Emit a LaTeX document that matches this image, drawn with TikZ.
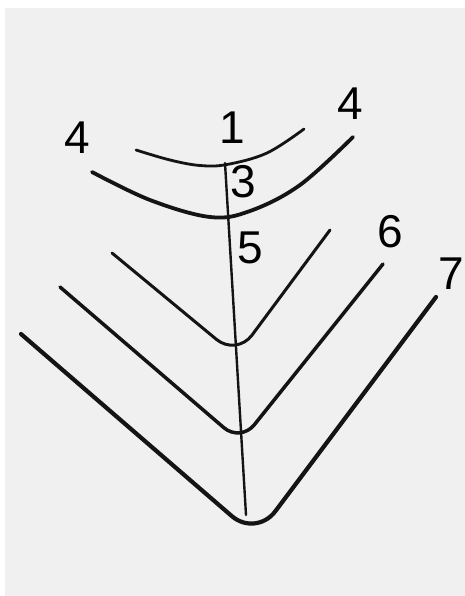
\documentclass[tikz,border=0pt]{standalone}
\usepackage{fontspec}
\setmainfont{Liberation Sans}
\begin{document}
\begin{tikzpicture}[x=1pt,y=-1pt,
  ink/.style={line cap=round,line join=round,color=black!92},
  lbl/.style={inner sep=0pt,font=\fontsize{46}{50}\selectfont}]
\useasboundingbox (0,0) rectangle (465,596);
\fill[white] (0,0) rectangle (465,596);
\fill[black!6] (5,8) rectangle (465,596);
% upper arcs
\draw[ink,line width=2.8pt] plot[smooth,tension=0.6] coordinates {(136,150) (170,160) (200,165.5) (227,164.5) (267,153) (304,129)};
\draw[ink,line width=3.8pt] plot[smooth,tension=0.6] coordinates {(92,172) (150,200) (210,217) (250,211) (300,185) (353,137)};
% axis
\coordinate (top) at (225,163);
\coordinate (bot) at (246,515);
\draw[ink,line width=2.4pt] (top) -- (bot);
% chevrons
\draw[ink,line width=3pt,rounded corners=26pt] (112,253) -- (236.5,356) -- (330,230);
\draw[ink,line width=3.5pt,rounded corners=22pt] (60,287) -- (240.5,442) -- (383,264);
\draw[ink,line width=4.2pt,rounded corners=32pt] (21,334) -- (256,537) -- (436,297);
% labels
\node[lbl] (n1) at (232,128) {1};
\node[lbl] (n4a) at (77,138) {4};
\node[lbl] (n4b) at (350,104) {4};
\node[lbl] (n3) at (243,182) {3};
\node[lbl] (n5) at (250,248) {5};
\node[lbl] (n6) at (390,232) {6};
\node[lbl] (n7) at (451,274) {7};
\end{tikzpicture}
\end{document}
